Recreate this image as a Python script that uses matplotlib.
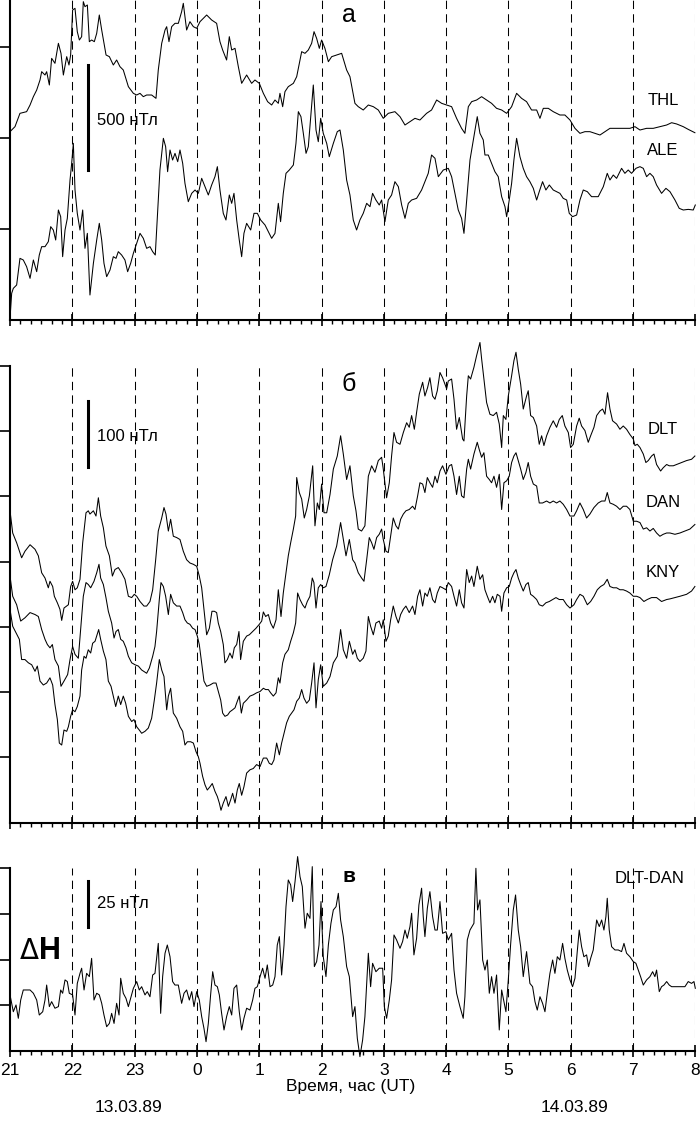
import matplotlib
matplotlib.use('Agg')
import matplotlib.pyplot as plt
from matplotlib.ticker import MultipleLocator

plt.rcParams['font.family'] = ['Liberation Sans', 'DejaVu Sans']

# время: минуты от 21:00 UT 13.03.89, значения: нТл (относительные)
thl = [(0, 904), (4.8, 928), (9.6, 992), (16.0, 1000), (19.3, 1032), (22.5, 1072), (25.7, 1104),
       (28.9, 1152), (30.5, 1192), (33.7, 1176), (35.3, 1192), (37.9, 1128), (40.1, 1256), (43.3, 1232),
       (46.6, 1328), (49.1, 1280), (51.4, 1176), (54.6, 1264), (56.8, 1224), (58.4, 1272), (60.3, 1488),
       (62.6, 1496), (64.8, 1384), (66.8, 1344), (69.0, 1360), (70.6, 1528), (72.2, 1504), (74.5, 1512),
       (76.4, 1336), (78.6, 1344), (81.2, 1336), (83.5, 1376), (86.0, 1464), (88.3, 1392), (92.5, 1272),
       (95.7, 1264), (99.5, 1224), (102.7, 1248), (105.9, 1216), (109.1, 1200), (114.0, 1120), (118.8, 1088),
       (122.0, 1080), (125.2, 1088), (128.4, 1072), (131.6, 1080), (136.4, 1080), (140.6, 1064), (142.8, 1200),
       (146.1, 1328), (149.3, 1392), (150.9, 1408), (153.1, 1336), (155.7, 1408), (158.9, 1424), (162.1, 1424),
       (165.3, 1480), (166.9, 1520), (170.1, 1392), (173.3, 1432), (176.6, 1408), (179.8, 1400), (183.0, 1432),
       (186.2, 1448), (189.4, 1464), (194.2, 1440), (199.0, 1424), (202.2, 1336), (204.8, 1296), (208.6, 1248),
       (211.2, 1360), (213.5, 1296), (216.7, 1304), (219.9, 1216), (223.1, 1136), (227.9, 1176), (232.7, 1136),
       (235.9, 1152), (240.1, 1136), (244.0, 1088), (248.1, 1048), (252.0, 1032), (255.2, 1056), (258.4, 1040),
       (260.0, 1088), (262.6, 1024), (264.8, 1096), (268.0, 1120), (272.9, 1136), (276.1, 1168), (280.9, 1288),
       (284.1, 1280), (287.3, 1296), (290.5, 1328), (292.8, 1384), (295.3, 1352), (297.9, 1304), (300.1, 1344),
       (303.3, 1304), (306.6, 1240), (309.8, 1264), (314.6, 1272), (319.4, 1280), (324.2, 1200), (327.4, 1168),
       (332.2, 1040), (335.4, 1024), (340.2, 1008), (345.1, 1032), (349.9, 1024), (354.7, 1008), (359.5, 968),
       (364.3, 992), (370.7, 1000), (375.6, 976), (380.4, 936), (385.2, 952), (390.0, 968), (394.8, 960),
       (401.2, 992), (406.0, 1008), (410.9, 1056), (415.7, 1040), (420.5, 1032), (425.3, 1024), (430.1, 968),
       (434.9, 920), (438.1, 896), (441.4, 1024), (444.6, 1048), (449.4, 1056), (454.2, 1072), (459.0, 1056),
       (463.8, 1040), (468.6, 1016), (473.5, 1008), (478.3, 992), (483.1, 1024), (487.9, 1088), (492.7, 1064),
       (497.5, 1048), (502.3, 1008), (507.2, 1008), (510.4, 968), (513.6, 1016), (518.4, 1016), (523.2, 1000),
       (529.6, 984), (534.4, 984), (539.3, 960), (544.1, 920), (548.9, 896), (553.7, 904), (558.5, 904),
       (563.3, 896), (568.2, 888), (573.0, 904), (577.8, 920), (584.2, 920), (590.6, 920), (597.0, 920),
       (601.9, 928), (606.7, 912), (613.1, 920), (619.5, 920), (625.9, 928), (632.4, 936), (637.2, 947),
       (642.0, 941), (648.4, 928), (653.2, 915), (659.6, 899)]

ale = [(0, 8), (1.6, 128), (3.2, 152), (6.4, 168), (9.6, 296), (12.8, 288), (16.0, 256), (19.3, 200),
       (22.5, 288), (25.7, 232), (28.2, 312), (30.5, 352), (33.7, 352), (36.9, 376), (39.2, 448), (41.7, 432),
       (44.0, 384), (46.6, 528), (48.8, 496), (50.7, 304), (53.0, 432), (55.2, 488), (57.8, 672), (59.4, 752),
       (61.0, 848), (62.6, 624), (64.8, 512), (67.4, 432), (70.0, 528), (72.2, 344), (74.5, 416), (77.0, 120),
       (80.3, 272), (83.5, 384), (86.0, 464), (88.3, 384), (90.5, 272), (93.1, 208), (96.3, 240), (99.5, 304),
       (102.1, 296), (104.3, 328), (107.5, 312), (110.7, 288), (113.3, 232), (116.2, 272), (118.8, 320),
       (122.0, 368), (125.2, 416), (128.4, 392), (131.6, 344), (134.8, 352), (137.4, 328), (139.9, 312),
       (141.9, 496), (144.4, 720), (147.7, 872), (149.9, 832), (151.8, 712), (154.1, 816), (156.6, 768),
       (158.9, 800), (161.5, 760), (163.7, 816), (166.3, 752), (168.5, 656), (171.7, 568), (175.0, 608),
       (178.2, 624), (181.4, 608), (184.6, 680), (187.8, 640), (191.0, 600), (194.2, 648), (197.4, 688),
       (199.7, 736), (202.2, 624), (205.4, 512), (208.0, 480), (211.2, 600), (213.5, 560), (215.7, 608),
       (218.3, 480), (220.8, 384), (223.1, 304), (225.3, 416), (227.9, 464), (231.8, 432), (235.0, 512),
       (238.2, 512), (241.4, 480), (245.6, 456), (248.8, 424), (252.0, 392), (255.2, 416), (258.4, 560),
       (260.6, 472), (263.2, 608), (265.8, 704), (269.0, 720), (272.9, 744), (275.4, 848), (277.7, 1000),
       (280.2, 976), (282.5, 896), (285.1, 800), (287.3, 832), (289.6, 976), (292.1, 1128), (294.7, 912),
       (296.9, 856), (299.2, 968), (301.7, 896), (305.0, 848), (307.5, 784), (311.4, 848), (315.2, 904),
       (317.8, 912), (321.0, 816), (324.2, 672), (327.4, 600), (330.6, 480), (333.8, 432), (337.0, 480),
       (340.2, 512), (343.5, 560), (346.7, 544), (349.2, 608), (352.4, 576), (355.6, 552), (357.9, 576),
       (361.1, 472), (364.3, 576), (367.5, 600), (370.7, 664), (374.0, 640), (377.2, 552), (380.4, 488),
       (383.6, 560), (386.8, 576), (391.6, 584), (396.4, 624), (399.6, 664), (402.8, 704), (406.0, 792),
       (409.3, 776), (412.5, 688), (417.3, 720), (422.1, 728), (425.3, 688), (428.5, 608), (431.7, 528),
       (434.9, 488), (437.2, 416), (439.8, 576), (443.0, 768), (446.2, 864), (450.0, 976), (452.6, 896),
       (455.8, 864), (457.4, 792), (460.6, 792), (463.8, 752), (467.0, 712), (470.2, 688), (473.5, 592),
       (476.7, 544), (478.3, 496), (480.8, 576), (483.1, 656), (485.3, 768), (487.9, 872), (491.1, 784),
       (494.3, 728), (497.5, 688), (500.7, 664), (504.0, 632), (507.2, 576), (509.7, 616), (512.9, 664),
       (516.1, 624), (519.4, 648), (523.2, 624), (526.4, 616), (529.6, 608), (532.8, 584), (536.1, 576),
       (538.6, 512), (541.8, 496), (545.7, 504), (548.9, 576), (552.1, 624), (556.0, 616), (560.1, 592),
       (566.5, 592), (571.4, 640), (575.2, 704), (577.8, 672), (581.0, 696), (584.2, 680), (589.0, 728),
       (592.2, 704), (595.4, 720), (598.6, 704), (602.8, 728), (606.7, 736), (609.9, 728), (613.1, 688),
       (616.3, 704), (619.5, 688), (622.7, 648), (627.5, 608), (631.7, 632), (635.6, 616), (640.4, 576),
       (644.5, 536), (648.4, 528), (653.2, 531), (658.0, 528), (660.0, 552)]

dlt = [(0, 478), (2.6, 444), (6.4, 429), (11.2, 406), (14.4, 416), (19.3, 426), (24.1, 419), (27.3, 409),
       (30.5, 383), (33.7, 375), (36.9, 360), (38.5, 370), (41.1, 362), (42.7, 347), (45.6, 337), (48.1, 327),
       (49.8, 310), (52.0, 329), (56.2, 334), (58.4, 362), (60.3, 370), (62.6, 357), (64.8, 360), (67.4, 373),
       (70.0, 429), (73.2, 475), (75.4, 478), (77.0, 473), (80.3, 478), (82.8, 470), (85.1, 498), (87.3, 470),
       (89.9, 452), (92.4, 424), (95.7, 409), (98.6, 378), (101.1, 388), (104.3, 391), (107.5, 383),
       (110.7, 373), (114.0, 347), (117.2, 345), (119.7, 350), (122.0, 347), (125.2, 339), (129.0, 332),
       (131.6, 332), (134.8, 339), (137.4, 357), (140.3, 403), (142.8, 447), (146.1, 467), (148.3, 483),
       (150.2, 473), (152.5, 447), (154.7, 465), (157.3, 439), (160.5, 437), (163.7, 434), (166.9, 416),
       (170.1, 403), (173.3, 398), (176.6, 396), (179.8, 393), (182.3, 378), (184.6, 360), (186.8, 327),
       (189.4, 288), (192.0, 298), (194.5, 324), (196.8, 324), (199.0, 322), (200.6, 306), (202.9, 293),
       (205.4, 273), (207.0, 245), (209.3, 250), (211.8, 260), (214.1, 252), (216.0, 268), (218.3, 273),
       (220.5, 293), (222.1, 250), (224.7, 278), (227.9, 286), (230.5, 288), (233.7, 293), (236.9, 298),
       (240.1, 304), (242.4, 309), (244.0, 323), (246.2, 316), (248.8, 319), (251.0, 306), (253.6, 298),
       (256.2, 311), (258.4, 357), (261.0, 316), (263.2, 352), (265.8, 383), (268.0, 409), (270.3, 429),
       (272.9, 450), (275.1, 470), (276.1, 529), (278.6, 506), (280.9, 496), (283.4, 467), (285.7, 480),
       (288.3, 501), (291.5, 547), (293.7, 455), (296.0, 490), (297.9, 480), (300.1, 519), (302.4, 475),
       (305.0, 475), (308.2, 503), (311.4, 542), (315.2, 562), (318.4, 593), (321.0, 565), (324.2, 526),
       (327.4, 547), (330.6, 501), (333.2, 478), (335.4, 450), (338.6, 447), (341.8, 455), (345.1, 531),
       (348.3, 547), (351.5, 537), (354.7, 555), (357.9, 560), (359.5, 542), (362.7, 498), (365.3, 521),
       (367.5, 562), (369.8, 598), (372.3, 583), (375.6, 580), (378.8, 598), (382.0, 613), (384.5, 606),
       (386.8, 624), (389.4, 603), (391.6, 629), (394.2, 657), (397.4, 675), (399.6, 654), (402.2, 667),
       (404.4, 682), (407.0, 654), (409.3, 649), (411.5, 662), (414.1, 690), (416.6, 682), (420.5, 665),
       (422.1, 677), (425.3, 680), (427.6, 649), (430.1, 603), (432.7, 621), (435.9, 588), (437.2, 585),
       (439.8, 654), (441.4, 685), (443.6, 680), (446.8, 698), (449.4, 716), (452.6, 736), (454.2, 711),
       (456.4, 680), (459.0, 644), (462.2, 626), (465.4, 624), (468.6, 629), (471.2, 611), (473.5, 575),
       (475.1, 624), (477.6, 618), (479.9, 654), (483.1, 685), (485.3, 708), (487.3, 721), (489.5, 695),
       (491.8, 672), (494.3, 634), (497.5, 654), (499.1, 662), (501.4, 624), (504.0, 621), (507.2, 608),
       (509.7, 580), (512.0, 593), (514.2, 578), (516.8, 593), (520.0, 606), (523.2, 616), (526.4, 606),
       (529.0, 618), (531.9, 624), (534.4, 608), (537.7, 598), (539.9, 575), (542.5, 580), (545.7, 608),
       (548.2, 620), (550.5, 608), (553.7, 601), (556.9, 583), (559.2, 593), (562.4, 606), (565.0, 624),
       (568.2, 631), (570.7, 634), (573.0, 626), (575.5, 659), (577.8, 634), (580.3, 616), (584.2, 611),
       (587.4, 603), (590.6, 608), (593.8, 603), (597.0, 595), (600.3, 588), (601.9, 578), (604.1, 580),
       (606.7, 575), (609.9, 565), (612.4, 552), (614.7, 555), (617.9, 562), (620.2, 565), (622.7, 549),
       (626.6, 539), (629.1, 544), (632.4, 549), (634.9, 547), (638.8, 547), (642.0, 549), (646.8, 552),
       (651.6, 555), (656.4, 557), (659.6, 562)]

dan = [(0, 378), (2.6, 347), (6.4, 334), (10.3, 309), (14.4, 314), (19.3, 322), (24.1, 319), (27.3, 316),
       (30.5, 296), (33.7, 281), (36.0, 273), (38.5, 268), (40.8, 273), (43.3, 250), (46.6, 240), (49.1, 209),
       (52.0, 217), (55.5, 227), (57.8, 250), (60.3, 270), (62.6, 258), (65.8, 252), (68.0, 296), (70.6, 347),
       (73.2, 368), (75.4, 365), (77.7, 360), (80.9, 370), (83.5, 383), (85.7, 396), (87.3, 375), (89.9, 365),
       (92.4, 345), (94.7, 324), (97.9, 306), (100.2, 283), (102.1, 293), (104.3, 296), (106.6, 281),
       (109.1, 278), (111.7, 268), (114.0, 255), (117.2, 245), (120.4, 242), (123.6, 240), (126.8, 234),
       (131.6, 229), (134.2, 237), (137.4, 255), (139.6, 270), (141.2, 293), (143.8, 342), (145.4, 368),
       (147.7, 362), (149.9, 347), (152.5, 319), (154.7, 350), (157.3, 337), (160.5, 332), (163.7, 332),
       (166.3, 322), (168.5, 311), (170.8, 306), (173.3, 304), (175.9, 298), (178.2, 296), (180.4, 286),
       (182.3, 273), (184.6, 245), (186.8, 217), (189.4, 209), (192.6, 211), (195.8, 214), (198.4, 214),
       (200.6, 201), (202.9, 188), (204.8, 168), (207.0, 163), (209.6, 165), (211.8, 170), (214.4, 173),
       (216.7, 176), (218.9, 186), (220.8, 194), (222.8, 168), (224.7, 183), (227.9, 188), (231.1, 194),
       (234.3, 196), (237.5, 199), (240.8, 201), (244.0, 206), (246.2, 204), (248.8, 204), (251.0, 199),
       (253.6, 194), (256.2, 199), (258.4, 222), (260.0, 214), (262.6, 245), (264.8, 258), (268.0, 265),
       (270.3, 278), (272.9, 291), (275.1, 306), (277.0, 352), (279.3, 342), (281.8, 334), (284.1, 329),
       (286.3, 339), (288.9, 347), (291.1, 375), (292.7, 368), (294.7, 329), (296.9, 360), (299.2, 365),
       (301.7, 360), (304.3, 362), (307.5, 380), (310.7, 403), (314.6, 424), (318.4, 460), (321.0, 434),
       (323.6, 409), (326.8, 434), (330.0, 403), (332.2, 398), (335.4, 383), (338.6, 375), (340.9, 370),
       (343.5, 403), (346.0, 437), (348.3, 429), (350.5, 419), (353.1, 437), (355.6, 442), (357.9, 450),
       (359.5, 434), (362.1, 416), (364.3, 414), (366.6, 439), (369.1, 467), (371.7, 455), (374.0, 450),
       (376.2, 465), (378.8, 473), (381.3, 478), (384.5, 480), (387.7, 485), (390.0, 480), (392.6, 501),
       (394.8, 521), (397.4, 519), (399.6, 506), (401.9, 529), (404.4, 521), (407.0, 514), (409.3, 531),
       (411.5, 521), (414.1, 539), (416.6, 547), (419.8, 534), (423.1, 547), (425.3, 549), (427.6, 531),
       (430.1, 503), (432.7, 531), (434.9, 501), (437.2, 498), (439.8, 542), (441.4, 557), (443.6, 542),
       (446.8, 565), (450.0, 583), (451.9, 572), (454.2, 560), (456.4, 567), (459.0, 531), (461.6, 526),
       (463.8, 521), (466.1, 531), (468.6, 514), (471.2, 534), (473.5, 480), (475.7, 521), (478.3, 524),
       (480.8, 531), (483.1, 552), (485.3, 562), (487.3, 567), (489.5, 555), (491.8, 542), (494.3, 526),
       (496.9, 537), (499.1, 552), (501.4, 531), (504.0, 519), (507.2, 516), (509.7, 490), (512.9, 490),
       (516.8, 493), (520.0, 490), (523.2, 493), (526.4, 490), (529.6, 493), (532.8, 488), (536.1, 480),
       (539.3, 470), (543.1, 470), (545.7, 478), (548.9, 490), (552.1, 480), (555.3, 467), (558.5, 473),
       (562.4, 483), (566.5, 490), (569.8, 493), (573.0, 493), (575.2, 506), (577.8, 490), (581.0, 488),
       (584.2, 485), (587.4, 480), (590.6, 485), (593.8, 485), (597.0, 480), (600.3, 462), (603.5, 462),
       (606.7, 460), (609.9, 450), (613.1, 452), (616.3, 447), (619.5, 451), (622.7, 444), (625.9, 439),
       (629.1, 442), (632.4, 444), (635.6, 444), (640.4, 442), (645.2, 444), (650.0, 447), (654.8, 450),
       (659.6, 457)]

kny = [(0, 327), (2.6, 301), (5.8, 291), (9.0, 281), (11.2, 250), (14.4, 250), (17.7, 245), (20.9, 242),
       (24.1, 232), (26.3, 240), (28.9, 217), (32.1, 211), (35.3, 214), (38.5, 222), (41.1, 211), (43.3, 181),
       (45.6, 158), (47.5, 122), (49.8, 119), (52.0, 142), (54.6, 140), (56.2, 147), (58.4, 163), (60.3, 173),
       (62.6, 170), (64.8, 178), (67.4, 194), (69.0, 234), (71.3, 255), (73.2, 252), (75.4, 265), (77.7, 260),
       (79.6, 275), (81.9, 278), (83.5, 286), (85.4, 296), (87.3, 281), (89.9, 263), (92.4, 250), (94.7, 217),
       (97.3, 209), (99.5, 194), (101.8, 178), (104.3, 194), (106.6, 181), (109.1, 194), (111.4, 183),
       (114.0, 163), (117.2, 155), (119.4, 158), (122.0, 147), (124.5, 142), (126.8, 137), (130.0, 140),
       (133.2, 145), (136.4, 160), (139.0, 188), (141.2, 214), (143.8, 250), (146.1, 234), (148.3, 224),
       (150.9, 173), (152.5, 194), (154.7, 206), (157.3, 168), (160.5, 160), (163.7, 147), (166.3, 140),
       (168.5, 119), (170.8, 124), (174.0, 124), (176.6, 122), (179.1, 109), (181.4, 101), (183.0, 91),
       (185.5, 71), (187.8, 58), (190.0, 50), (192.6, 55), (194.8, 60), (197.4, 48), (199.7, 40), (201.6, 30),
       (203.2, 19), (205.4, 30), (208.0, 40), (210.3, 25), (212.5, 35), (214.4, 45), (216.7, 30), (218.9, 50),
       (220.8, 60), (223.1, 42), (225.3, 55), (227.9, 76), (231.1, 81), (234.3, 83), (237.5, 89), (240.8, 86),
       (244.0, 99), (247.2, 99), (249.7, 91), (252.0, 89), (254.2, 96), (256.8, 122), (259.4, 104),
       (261.6, 122), (263.9, 137), (266.4, 153), (269.0, 163), (271.3, 168), (273.5, 173), (276.1, 186),
       (278.6, 191), (280.9, 204), (283.1, 191), (285.7, 183), (288.3, 188), (290.5, 214), (292.8, 245),
       (294.7, 176), (296.9, 219), (299.2, 242), (301.7, 209), (305.0, 214), (308.2, 224), (311.4, 245),
       (315.2, 255), (318.4, 296), (321.0, 265), (324.2, 252), (326.8, 278), (330.0, 258), (332.2, 265),
       (334.5, 252), (337.0, 247), (340.2, 252), (342.8, 263), (345.1, 316), (347.3, 301), (349.9, 288),
       (352.4, 306), (355.6, 309), (357.9, 298), (359.5, 311), (362.1, 278), (364.3, 286), (366.6, 311),
       (369.1, 332), (371.7, 316), (374.0, 306), (376.2, 319), (378.8, 327), (381.3, 332), (384.5, 322),
       (387.7, 332), (390.0, 319), (392.6, 347), (394.8, 357), (397.4, 332), (399.6, 352), (401.9, 347),
       (404.4, 360), (407.0, 342), (409.3, 337), (411.5, 352), (414.1, 362), (416.6, 360), (419.8, 357),
       (422.1, 368), (425.3, 362), (427.6, 347), (430.1, 332), (432.7, 357), (434.9, 337), (437.2, 329),
       (439.8, 388), (442.3, 368), (444.6, 378), (446.8, 362), (450.0, 393), (452.6, 373), (455.2, 380),
       (457.4, 357), (459.7, 347), (462.2, 337), (464.8, 347), (467.0, 337), (469.3, 350), (471.9, 347),
       (473.5, 324), (475.7, 352), (478.3, 360), (480.8, 362), (483.1, 375), (485.3, 383), (487.3, 388),
       (489.5, 375), (491.8, 365), (494.3, 355), (496.9, 365), (499.1, 368), (501.4, 350), (504.0, 347),
       (507.2, 342), (509.7, 334), (512.9, 332), (516.1, 337), (519.4, 339), (522.6, 342), (525.8, 345),
       (529.0, 342), (532.8, 342), (536.1, 334), (539.3, 329), (543.1, 334), (545.7, 342), (548.9, 350),
       (552.1, 347), (556.0, 334), (559.2, 339), (562.4, 347), (565.6, 357), (568.8, 362), (572.0, 365),
       (575.2, 373), (577.8, 362), (581.0, 360), (584.2, 360), (587.4, 357), (590.6, 357), (593.8, 355),
       (597.0, 352), (600.3, 347), (603.5, 347), (606.7, 345), (610.5, 339), (613.7, 342), (617.9, 345),
       (622.7, 345), (627.5, 339), (632.4, 342), (635.6, 343), (640.4, 345), (645.2, 347), (651.6, 350),
       (656.4, 355), (659.6, 362)]

dlt_dan = [(0, 30.7), (1.6, 26.1), (3.2, 21.5), (5.8, 25.2), (8.0, 17.9), (10.3, 27.9), (12.8, 33.4),
           (16.0, 33.4), (19.3, 33.4), (22.5, 31.6), (25.7, 27.9), (28.2, 19.7), (31.5, 21.5), (33.7, 27.9),
           (35.3, 36.1), (37.9, 24.3), (40.1, 27.0), (43.3, 23.4), (46.6, 24.3), (48.8, 33.4), (50.7, 31.6),
           (53.0, 38.9), (55.2, 38.0), (57.1, 31.6), (60.3, 30.7), (62.6, 19.7), (64.8, 37.0), (67.4, 42.5),
           (69.0, 45.3), (71.3, 33.4), (73.8, 42.5), (76.4, 40.7), (78.6, 50.7), (80.9, 27.9), (83.5, 31.6),
           (86.0, 30.7), (88.3, 26.1), (90.5, 19.7), (93.1, 13.3), (95.7, 15.1), (97.9, 20.6), (100.2, 15.1),
           (102.7, 26.1), (105.0, 19.7), (106.6, 39.8), (109.1, 31.6), (111.7, 28.8), (114.0, 24.3),
           (116.2, 28.8), (118.8, 34.3), (122.0, 38.0), (124.5, 33.4), (126.8, 35.2), (130.0, 30.7),
           (132.2, 32.5), (134.8, 29.7), (137.4, 41.6), (139.6, 42.5), (142.8, 58.9), (145.1, 20.6),
           (147.0, 40.7), (149.3, 53.5), (151.5, 58.0), (154.1, 51.6), (156.6, 38.0), (158.9, 36.1),
           (162.1, 36.1), (165.3, 26.1), (167.6, 31.6), (170.1, 33.4), (172.7, 27.9), (175.0, 32.5),
           (177.2, 24.3), (179.8, 32.5), (182.3, 27.9), (184.6, 18.8), (186.8, 12.4), (188.8, 5.1),
           (191.0, 15.1), (193.2, 30.7), (195.2, 43.4), (197.4, 36.1), (199.7, 35.2), (201.6, 30.7),
           (203.8, 20.6), (206.1, 11.5), (208.6, 18.8), (211.2, 24.3), (213.5, 19.7), (215.7, 34.3),
           (218.3, 36.1), (220.8, 21.5), (223.1, 11.5), (225.3, 17.9), (227.9, 23.4), (231.1, 22.4),
           (233.7, 27.9), (235.9, 34.3), (238.2, 35.2), (240.8, 40.7), (243.3, 45.3), (245.6, 39.8),
           (247.8, 47.1), (250.4, 35.2), (253.0, 36.1), (255.2, 40.7), (257.4, 58.0), (259.4, 62.6),
           (261.6, 41.6), (263.9, 58.0), (265.8, 79.0), (268.0, 93.6), (270.3, 90.9), (272.2, 81.8),
           (274.5, 92.7), (277.0, 106.4), (279.3, 95.4), (281.5, 90.0), (284.1, 67.2), (286.3, 75.4),
           (288.9, 72.6), (291.1, 100.9), (293.1, 46.2), (295.3, 48.9), (297.6, 58.0), (299.5, 81.8),
           (301.7, 51.6), (304.3, 40.7), (306.6, 58.0), (309.1, 69.9), (311.4, 77.2), (314.0, 79.0),
           (316.2, 86.3), (318.4, 71.7), (321.0, 62.6), (324.2, 46.2), (326.8, 40.7), (330.0, 18.8),
           (332.2, 24.3), (334.5, 6.9), (337.0, -3.1), (339.6, 6.0), (341.8, 18.8), (345.1, 53.5),
           (347.3, 35.2), (349.2, 48.0), (352.4, 43.4), (355.6, 45.3), (358.9, 45.3), (360.5, 24.3),
           (362.7, 17.9), (365.3, 27.9), (367.5, 38.9), (369.8, 63.5), (372.3, 60.8), (375.6, 56.2),
           (378.1, 59.9), (380.4, 66.2), (382.6, 61.7), (385.2, 68.1), (386.8, 75.4), (389.0, 52.6),
           (391.6, 61.7), (393.8, 79.9), (396.4, 89.1), (398.0, 73.5), (399.6, 62.6), (401.9, 78.1),
           (404.4, 87.2), (407.0, 73.5), (409.3, 66.2), (411.5, 66.2), (414.1, 81.8), (416.6, 64.4),
           (419.8, 65.3), (422.1, 60.8), (425.3, 64.4), (427.6, 44.3), (430.1, 31.6), (433.3, 24.3),
           (436.5, 17.9), (438.1, 29.7), (440.4, 60.8), (443.0, 66.2), (446.8, 69.9), (448.7, 100.0),
           (450.3, 77.2), (452.6, 82.7), (455.2, 49.8), (457.4, 44.3), (459.7, 49.8), (461.6, 31.6),
           (463.8, 40.7), (466.1, 31.6), (468.6, 41.6), (471.2, 11.5), (473.5, 33.4), (475.7, 27.0),
           (477.6, 21.5), (479.9, 38.9), (482.1, 58.0), (484.7, 77.2), (486.9, 85.4), (489.5, 66.2),
           (491.8, 57.1), (494.3, 40.7), (497.5, 54.4), (500.7, 37.0), (503.3, 35.2), (505.6, 27.0),
           (507.8, 22.4), (510.4, 29.7), (512.9, 26.1), (515.2, 21.5), (517.4, 31.6), (520.0, 42.5),
           (522.6, 49.8), (524.8, 42.5), (527.1, 51.6), (529.6, 49.8), (532.2, 58.9), (534.4, 50.7),
           (536.7, 44.3), (539.3, 38.9), (541.8, 35.2), (544.1, 39.8), (546.3, 54.4), (548.2, 66.2),
           (550.5, 57.1), (552.7, 51.6), (555.3, 52.6), (557.2, 46.2), (559.2, 50.7), (561.7, 55.3),
           (565.0, 71.7), (567.5, 68.1), (569.8, 71.7), (572.0, 66.2), (573.9, 73.5), (575.2, 83.6),
           (577.1, 66.2), (579.4, 57.1), (582.6, 55.3), (585.8, 55.3), (589.0, 54.4), (591.3, 58.9),
           (593.8, 53.5), (597.0, 51.6), (600.3, 48.9), (602.8, 48.0), (605.1, 44.3), (607.3, 40.7),
           (609.9, 36.1), (613.1, 38.9), (616.3, 40.7), (618.9, 43.4), (621.1, 40.7), (622.7, 44.3),
           (625.3, 32.5), (627.5, 35.2), (629.8, 36.1), (632.4, 38.0), (634.9, 36.1), (637.2, 35.2),
           (640.4, 35.2), (645.2, 35.2), (650.0, 35.2), (653.2, 38.0), (656.4, 37.0), (658.7, 38.0),
           (660.0, 34.3)]

hour_labels = ['21', '22', '23', '0', '1', '2', '3', '4', '5', '6', '7', '8']


def setup(ax, ymax, yticks, top):
    ax.set_xlim(0, 660)
    ax.set_ylim(0, ymax)
    ax.patch.set_visible(False)
    ax.spines['top'].set_visible(False)
    ax.spines['right'].set_visible(False)
    ax.spines['left'].set_bounds(0, top)
    ax.spines['left'].set_linewidth(1.5)
    ax.spines['bottom'].set_linewidth(1.5)
    ax.set_yticks(yticks)
    ax.set_yticklabels([])
    ax.tick_params(axis='y', direction='out', length=7, width=1.2)
    ax.xaxis.set_major_locator(MultipleLocator(60))
    ax.xaxis.set_minor_locator(MultipleLocator(10))
    ax.tick_params(axis='x', which='major', direction='inout', length=9, width=1.2,
                   labelsize=12.5, pad=4)
    ax.tick_params(axis='x', which='minor', direction='out', length=3.2, width=1)
    ax.set_xticklabels([])
    # пунктир по часам
    ax.vlines(range(60, 661, 60), 0, top, colors='black',
              linestyles=(0, (8, 5)), linewidth=0.75)


def trace(ax, data):
    t = [p[0] for p in data]
    v = [p[1] for p in data]
    ax.plot(t, v, color='black', linewidth=0.75, clip_on=False)


fig = plt.figure(figsize=(7, 11.24), dpi=100)

ax_a = fig.add_axes([0.01429, 0.7153, 0.979, 0.2847])
ax_b = fig.add_axes([0.01429, 0.2681, 0.979, 0.4063])
ax_c = fig.add_axes([0.01429, 0.06495, 0.979, 0.16255])

setup(ax_a, 1536, [437.5, 875, 1312.5], 1536)
setup(ax_b, 700, [100, 200, 300, 400, 500, 600, 700], 700)
setup(ax_c, 100, [25, 50, 75, 100], 100)

# а
trace(ax_a, thl)
trace(ax_a, ale)
ax_a.plot([75, 75], [720, 1224], color='black', linewidth=2.2)
ax_a.text(84, 960, '500 нТл', fontsize=12, va='center', ha='left')
ax_a.text(326, 1464, 'а', fontsize=18, ha='center', va='center')
ax_a.text(629, 1056, 'THL', fontsize=12, ha='center', va='center')
ax_a.text(629, 816, 'ALE', fontsize=12, ha='center', va='center')

# б
trace(ax_b, dlt)
trace(ax_b, dan)
trace(ax_b, kny)
ax_b.plot([75, 75], [545, 647], color='black', linewidth=2.2)
ax_b.text(84, 592, '100 нТл', fontsize=12, va='center', ha='left')
ax_b.text(326, 673, 'б', fontsize=18, ha='center', va='center')
ax_b.text(629, 603, 'DLT', fontsize=12, ha='center', va='center')
ax_b.text(629, 491, 'DAN', fontsize=12, ha='center', va='center')
ax_b.text(629, 383, 'KNY', fontsize=12, ha='center', va='center')

# в
trace(ax_c, dlt_dan)
ax_c.plot([75, 75], [68, 93], color='black', linewidth=2.2)
ax_c.text(84, 81, '25 нТл', fontsize=12, va='center', ha='left')
ax_c.text(326, 95.5, 'в', fontsize=15, fontweight='bold', ha='center', va='center')
ax_c.text(616, 94.5, 'DLT-DAN', fontsize=12, ha='center', va='center')
ax_c.text(9.2, 50.1, 'Δ', fontsize=20, ha='left', va='baseline', family='DejaVu Sans')
ax_c.text(27.5, 50.1, 'H', fontsize=22, fontweight='bold', ha='left', va='baseline')
ax_c.set_xticks(range(0, 661, 60))
ax_c.set_xticklabels(hour_labels)

fig.text(351 / 700, 1 - 1087 / 1124, 'Время, час (UT)', fontsize=12.5, ha='center', va='center')
fig.text(129 / 700, 1 - 1108 / 1124, '13.03.89', fontsize=12.5, ha='center', va='center')
fig.text(575 / 700, 1 - 1108 / 1124, '14.03.89', fontsize=12.5, ha='center', va='center')

fig.savefig('out.png', dpi=100)
